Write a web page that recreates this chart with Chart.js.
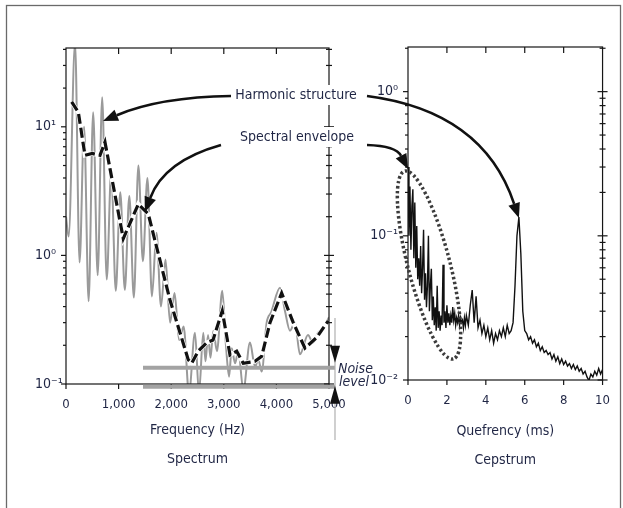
<!DOCTYPE html>
<html>
<head>
<meta charset="utf-8">
<script src="https://cdn.jsdelivr.net/npm/chart.js@4.4.1/dist/chart.umd.min.js"></script>
<style>
  html, body { margin: 0; padding: 0; background: #fff; }
  #wrap { position: relative; width: 623px; height: 508px; }
  canvas { position: absolute; left: 0; top: 0; }
</style>
</head>
<body>
<div id="wrap">
  <canvas id="spectrum" width="623" height="508"></canvas>
  <canvas id="cepstrum" width="623" height="508"></canvas>
</div>
<script>
// ---- spectrum (left panel) ----
const harmonicFreq = [0, 50, 172, 258, 344, 430, 516, 602, 688, 774, 860, 946, 1032, 1118, 1204, 1290, 1376, 1462,
  1548, 1634, 1720, 1806, 1892, 1978, 2064, 2150, 2236, 2338, 2452, 2528, 2610, 2652, 2700, 2747, 2800, 2870,
  2971, 3041, 3100, 3150, 3213, 3276, 3371, 3498, 3593, 3656, 3720, 3815, 3900, 4068, 4163, 4258, 4353, 4448,
  4600, 4695, 4790, 4885, 5000];
const harmonicLevel = [2.0, 1.4, 45, 0.88, 10, 0.44, 13, 0.70, 17, 0.65, 4.6, 0.53, 3.1, 0.54, 2.9, 0.47, 5.0, 0.9,
  4.0, 0.48, 1.5, 0.40, 0.93, 0.30, 0.51, 0.22, 0.28, 0.085, 0.25, 0.085, 0.25, 0.15, 0.24, 0.16, 0.26, 0.18,
  0.53, 0.2, 0.114, 0.19, 0.145, 0.18, 0.09, 0.21, 0.136, 0.155, 0.125, 0.30, 0.36, 0.56, 0.37, 0.26, 0.30, 0.17,
  0.24, 0.21, 0.25, 0.27, 0.33];
const envelopeFreq = [108, 234, 361, 500, 646, 741, 1089, 1374, 1564, 1977, 2325, 2390, 2515, 2675, 2795, 2971,
  3118, 3245, 3370, 3593, 3720, 3878, 4100, 4321, 4543, 4766, 4986];
const envelopeLevel = [15.6, 13, 6.0, 6.2, 6.0, 7.6, 1.35, 2.5, 2.1, 0.45, 0.154, 0.145, 0.18, 0.21, 0.22, 0.37,
  0.168, 0.18, 0.145, 0.15, 0.164, 0.30, 0.51, 0.30, 0.19, 0.23, 0.31];
const freqTicks = [0, 1000, 2000, 3000, 4000, 5000];
const spectrumDecades = [0.1, 1, 10];
const noiseLevel = [0.134, 0.095];
const noiseFreq = [1464, 5114];

// ---- cepstrum (right panel) ----
const quefrency = [0, 0.05, 0.1, 0.15, 0.2, 0.25, 0.3, 0.35, 0.4, 0.45, 0.5, 0.55, 0.6, 0.65, 0.7, 0.75, 0.8, 0.85, 0.9, 0.95,
  1, 1.05, 1.1, 1.15, 1.2, 1.25, 1.3, 1.35, 1.4, 1.45, 1.5, 1.55, 1.6, 1.65, 1.7, 1.75, 1.8, 1.85, 1.9, 1.95,
  2, 2.05, 2.1, 2.15, 2.2, 2.25, 2.3, 2.35, 2.4, 2.45, 2.5, 2.55, 2.6, 2.65, 2.7, 2.75, 2.8, 2.85, 2.9, 2.95,
  3, 3.1, 3.2, 3.3, 3.4, 3.5, 3.6, 3.7, 3.8, 3.9, 4, 4.1, 4.2, 4.3, 4.4, 4.5, 4.6, 4.7, 4.8, 4.9,
  5, 5.1, 5.2, 5.3, 5.4, 5.5, 5.6, 5.7, 5.8, 5.9, 6, 6.1, 6.2, 6.3, 6.4, 6.5, 6.6, 6.7, 6.8, 6.9,
  7, 7.1, 7.2, 7.3, 7.4, 7.5, 7.6, 7.7, 7.8, 7.9, 8, 8.1, 8.2, 8.3, 8.4, 8.5, 8.6, 8.7, 8.8, 8.9,
  9, 9.1, 9.2, 9.3, 9.4, 9.5, 9.6, 9.7, 9.8, 9.9, 10];
const cepstrumLevel = [0.30, 0.10, 0.22, 0.08, 0.16, 0.21, 0.07, 0.17, 0.06, 0.117, 0.05, 0.07, 0.045, 0.085, 0.04, 0.06, 0.11, 0.036, 0.055, 0.032,
  0.045, 0.10, 0.03, 0.045, 0.059, 0.026, 0.038, 0.024, 0.032, 0.022, 0.045, 0.023, 0.03, 0.022, 0.028, 0.024, 0.063, 0.025, 0.03, 0.023,
  0.033, 0.025, 0.029, 0.024, 0.028, 0.025, 0.032, 0.026, 0.029, 0.024, 0.027, 0.025, 0.028, 0.024, 0.027, 0.025, 0.026, 0.023, 0.027, 0.024,
  0.028, 0.024, 0.033, 0.042, 0.025, 0.038, 0.023, 0.026, 0.021, 0.024, 0.020, 0.023, 0.019, 0.022, 0.018, 0.021, 0.019, 0.022, 0.020, 0.023,
  0.020, 0.024, 0.021, 0.022, 0.025, 0.045, 0.10, 0.135, 0.075, 0.03, 0.022, 0.021, 0.019, 0.020, 0.018, 0.019, 0.017, 0.018, 0.016, 0.017,
  0.0155, 0.016, 0.015, 0.0155, 0.014, 0.015, 0.0135, 0.0145, 0.013, 0.014, 0.0128, 0.0135, 0.0125, 0.013, 0.012, 0.0128, 0.0118, 0.0125, 0.0115, 0.012,
  0.011, 0.0115, 0.0105, 0.0099, 0.011, 0.0105, 0.0115, 0.0108, 0.012, 0.011, 0.0118];
const quefTicks = [0, 2, 4, 6, 8, 10];
const cepstrumDecades = [0.01, 0.1, 1];
const pitchPeriod = 5.7;

const FONT = "'Liberation Sans Narrow', 'DejaVu Sans Condensed', 'Liberation Sans', sans-serif";
const TEXT = '#1f2544';
const SUP = { '-': '\u207B', '0': '\u2070', '1': '\u00B9', '2': '\u00B2' };
const powerLabel = v => '10' + String(Math.round(Math.log10(v))).split('').map(c => SUP[c]).join('');
const points = (xs, ys) => xs.map((x, i) => ({ x: x, y: ys[i] }));

// box + tick marks on all four sides
const axisFrame = {
  id: 'axisFrame',
  afterDraw(chart, args, opts) {
    const { ctx, chartArea: a, scales: { x, y } } = chart;
    const line = (x1, y1, x2, y2) => { ctx.beginPath(); ctx.moveTo(x1, y1); ctx.lineTo(x2, y2); ctx.stroke(); };
    ctx.save();
    ctx.strokeStyle = '#161616';
    ctx.lineWidth = 1.2;
    ctx.strokeRect(a.left, a.top, a.right - a.left, a.bottom - a.top);
    opts.xTicks.forEach(v => {
      const px = x.getPixelForValue(v);
      line(px, a.bottom, px, a.bottom + 5);
      if (px > a.left + 1 && px < a.right - 1) line(px, a.top, px, a.top + 6);
    });
    opts.decades.forEach(d => {
      for (let m = 1; m <= 9; m++) {
        const v = d * m;
        if (v < y.min || v > y.max) continue;
        const py = y.getPixelForValue(v);
        const len = m === 1 ? 5 : 3;
        line(a.left - len, py, a.left, py);
        line(a.right - len, py, a.right + len, py);
      }
    });
    ctx.restore();
  }
};

function axisOptions(xMin, xMax, xTicks, xTitle, xFormat, yMin, yMax, yDecades, yWidth, yAlign, yPad, xHeight) {
  return {
    x: {
      type: 'linear', min: xMin, max: xMax,
      grid: { display: false, drawTicks: false }, border: { display: false },
      afterBuildTicks: s => { s.ticks = xTicks.map(v => ({ value: v })); },
      afterFit: s => { s.height = xHeight; },
      ticks: { autoSkip: false, maxRotation: 0, padding: 13, color: TEXT, font: { family: FONT, size: 13 }, callback: xFormat },
      title: { display: true, text: xTitle, color: TEXT, padding: 0, font: { family: FONT, size: 14, lineHeight: '29px' } }
    },
    y: {
      type: 'logarithmic', min: yMin, max: yMax,
      grid: { display: false, drawTicks: false }, border: { display: false },
      afterBuildTicks: s => { s.ticks = yDecades.map(v => ({ value: v })); },
      afterFit: s => { s.width = yWidth; },
      ticks: { autoSkip: false, crossAlign: yAlign, padding: yPad, color: TEXT, font: { family: FONT, size: 14 }, callback: v => powerLabel(v) }
    }
  };
}

const spectrumChart = new Chart(document.getElementById('spectrum'), {
  type: 'line',
  data: {
    datasets: [
      { data: points(envelopeFreq, envelopeLevel), borderColor: '#111', borderWidth: 3.2, borderDash: [10, 4], pointRadius: 0, tension: 0, order: 0 },
      { data: points(envelopeFreq, envelopeLevel), borderColor: '#fff', borderWidth: 4.5, pointRadius: 0, tension: 0, order: 1 },
      { data: points(harmonicFreq, harmonicLevel), borderColor: '#9a9a9a', borderWidth: 2, pointRadius: 0, cubicInterpolationMode: 'monotone', order: 2 }
    ]
  },
  options: {
    responsive: false, animation: false, events: [],
    layout: { padding: { left: 35, right: 294, top: 48, bottom: 34 } },
    plugins: { legend: { display: false }, tooltip: { enabled: false }, axisFrame: { xTicks: freqTicks, decades: spectrumDecades } },
    scales: axisOptions(0, 5000, freqTicks, ['Frequency (Hz)', 'Spectrum'], v => v.toLocaleString('en-US'),
      0.1, 41, spectrumDecades, 31, 'far', 4, 90)
  },
  plugins: [axisFrame]
});

function curvedArrow(ctx, p0, c, p1) {
  const ang = Math.atan2(p1[1] - c[1], p1[0] - c[0]);
  const L = 15, W = 6;
  const bx = p1[0] - L * Math.cos(ang), by = p1[1] - L * Math.sin(ang);
  ctx.beginPath();
  ctx.moveTo(p0[0], p0[1]);
  ctx.quadraticCurveTo(c[0], c[1], bx, by);
  ctx.stroke();
  ctx.beginPath();
  ctx.moveTo(p1[0], p1[1]);
  ctx.lineTo(bx - W * Math.sin(ang), by + W * Math.cos(ang));
  ctx.lineTo(bx + W * Math.sin(ang), by - W * Math.cos(ang));
  ctx.closePath();
  ctx.fill();
}

// labels, arrows, noise level and the circled envelope part
const annotations = {
  id: 'annotations',
  afterDraw(chart) {
    const ctx = chart.ctx;
    const sx = spectrumChart.scales.x, sy = spectrumChart.scales.y;
    const cx = chart.scales.x, cy = chart.scales.y;
    ctx.save();

    // outer figure frame
    ctx.strokeStyle = '#6a6a6a';
    ctx.lineWidth = 1.3;
    ctx.strokeRect(6.5, 5.5, 614, 530);

    // noise level bars
    const nx0 = sx.getPixelForValue(noiseFreq[0]), nx1 = sx.getPixelForValue(noiseFreq[1]);
    ctx.strokeStyle = '#a3a3a3';
    ctx.lineWidth = 4;
    noiseLevel.forEach(v => {
      const py = sy.getPixelForValue(v);
      ctx.beginPath(); ctx.moveTo(nx0, py); ctx.lineTo(nx1, py); ctx.stroke();
    });
    ctx.lineWidth = 1.2;
    ctx.strokeStyle = '#b0b0b0';
    ctx.beginPath(); ctx.moveTo(nx1, 318); ctx.lineTo(nx1, 440); ctx.stroke();
    const topY = sy.getPixelForValue(noiseLevel[0]), botY = sy.getPixelForValue(noiseLevel[1]);
    ctx.fillStyle = '#111';
    ctx.beginPath(); ctx.moveTo(nx1 - 5, topY - 22); ctx.lineTo(nx1 + 5, topY - 22); ctx.lineTo(nx1, topY - 5); ctx.closePath(); ctx.fill();
    ctx.beginPath(); ctx.moveTo(nx1 - 5, botY + 17); ctx.lineTo(nx1 + 5, botY + 17); ctx.lineTo(nx1, botY - 1); ctx.closePath(); ctx.fill();
    ctx.fillStyle = TEXT;
    ctx.font = 'italic 14px ' + FONT;
    ctx.textAlign = 'left';
    ctx.textBaseline = 'middle';
    ctx.fillText('Noise', nx1 + 3, 369);
    ctx.fillText('level', nx1 + 4, 382);

    // callout labels
    ctx.font = '14px ' + FONT;
    ctx.textAlign = 'center';
    [['Harmonic structure', 296, 95], ['Spectral envelope', 297, 137]].forEach(([t, x, y]) => {
      const w = ctx.measureText(t).width;
      ctx.fillStyle = '#fff';
      ctx.fillRect(x - w / 2 - 6, y - 10, w + 12, 20);
      ctx.fillStyle = TEXT;
      ctx.fillText(t, x, y);
    });

    // arrows
    ctx.strokeStyle = '#111';
    ctx.fillStyle = '#111';
    ctx.lineWidth = 2.6;
    const pk = quefrency.indexOf(pitchPeriod);
    curvedArrow(ctx, [231, 96], [160, 97], [103, 121]);
    curvedArrow(ctx, [221, 145], [164, 161], [145, 212]);
    curvedArrow(ctx, [367, 96], [483, 111], [cx.getPixelForValue(pitchPeriod), cy.getPixelForValue(cepstrumLevel[pk]) + 1]);
    curvedArrow(ctx, [367, 145], [396, 146], [cx.getPixelForValue(0), cy.getPixelForValue(cepstrumLevel[0]) + 2]);

    // dotted ellipse around the low-quefrency part
    ctx.strokeStyle = '#3c3c3c';
    ctx.lineWidth = 3.5;
    ctx.setLineDash([2.5, 2.5]);
    ctx.beginPath();
    ctx.ellipse(429, 265, 97, 21, 75.5 * Math.PI / 180, 0, 2 * Math.PI);
    ctx.stroke();
    ctx.restore();
  }
};

const cepstrumChart = new Chart(document.getElementById('cepstrum'), {
  type: 'line',
  data: {
    datasets: [
      { data: points(quefrency, cepstrumLevel), borderColor: '#111', borderWidth: 1.4, pointRadius: 0, tension: 0 }
    ]
  },
  options: {
    responsive: false, animation: false, events: [],
    layout: { padding: { left: 368, right: 11, top: 47, bottom: 33.5 } },
    plugins: { legend: { display: false }, tooltip: { enabled: false }, axisFrame: { xTicks: quefTicks, decades: cepstrumDecades } },
    scales: axisOptions(0, 10, quefTicks, ['Quefrency (ms)', 'Cepstrum'], v => String(v),
      0.01, 2.04, cepstrumDecades, 40, 'near', 10, 94.5)
  },
  plugins: [axisFrame, annotations]
});
</script>
</body>
</html>
